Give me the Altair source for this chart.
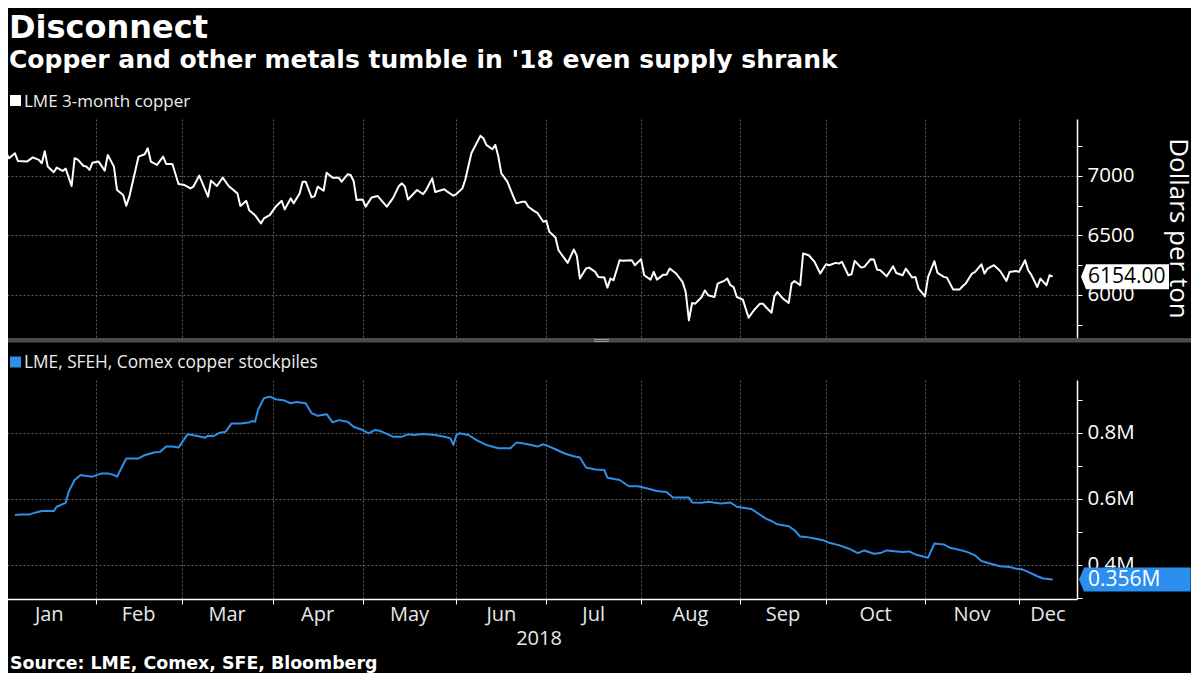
import altair as alt
import pandas as pd

# ---------------- texts ----------------
TITLE = "Disconnect"
SUBTITLE = "Copper and other metals tumble in '18 even supply shrank"
SOURCE = "Source: LME, Comex, SFE, Bloomberg"
COPPER_LABEL = "LME 3-month copper"
STOCK_LABEL = "LME, SFEH, Comex copper stockpiles"
COPPER_UNIT = "Dollars per ton"
YEAR = "2018"

# ---------------- data ----------------
copper_dates = [
    "01-01", "01-03", "01-05", "01-06", "01-09", "01-11", "01-13", "01-14", "01-15", "01-16",
    "01-18", "01-19", "01-21", "01-22", "01-24", "01-25", "01-26", "01-28", "01-29", "01-30", "01-31",
    "02-02", "02-04", "02-05", "02-07", "02-08", "02-10", "02-11", "02-12", "02-15", "02-17",
    "02-18", "02-19", "02-21", "02-23", "02-24", "02-26", "02-28",
    "03-02", "03-04", "03-05", "03-07", "03-08", "03-10", "03-11", "03-13", "03-15", "03-17",
    "03-20", "03-21", "03-23", "03-24", "03-26", "03-28", "03-29", "03-31",
    "04-02", "04-04", "04-05", "04-07", "04-08", "04-10", "04-11", "04-12", "04-14", "04-15",
    "04-16", "04-18", "04-19", "04-21", "04-23", "04-24", "04-26", "04-27", "04-28", "04-29",
    "05-01", "05-02", "05-04", "05-06", "05-09", "05-11", "05-13", "05-14", "05-15", "05-16",
    "05-19", "05-21", "05-22", "05-24", "05-25", "05-28", "05-29", "05-31",
    "06-01", "06-03", "06-04", "06-06", "06-09", "06-10", "06-11", "06-13", "06-14", "06-15",
    "06-16", "06-18", "06-20", "06-21", "06-23", "06-24", "06-25", "06-27", "06-28", "06-30",
    "07-01", "07-02", "07-04", "07-05", "07-08", "07-10", "07-11", "07-12", "07-14", "07-15",
    "07-17", "07-18", "07-20", "07-21", "07-22", "07-23", "07-25", "07-26", "07-29", "07-30",
    "08-01", "08-02", "08-04", "08-05", "08-06", "08-08", "08-09", "08-10", "08-12", "08-14",
    "08-15", "08-16", "08-17", "08-18", "08-20", "08-21", "08-22", "08-24", "08-25", "08-27",
    "08-28", "08-29", "08-30", "08-31",
    "09-02", "09-04", "09-06", "09-08", "09-09", "09-10", "09-12", "09-13", "09-14", "09-16",
    "09-18", "09-19", "09-20", "09-22", "09-23", "09-25", "09-27", "09-29",
    "10-01", "10-02", "10-04", "10-05", "10-06", "10-08", "10-09", "10-10", "10-12", "10-13",
    "10-15", "10-16", "10-17", "10-18", "10-20", "10-22", "10-23", "10-25", "10-26", "10-28",
    "10-29", "10-30",
    "11-01", "11-02", "11-04", "11-05", "11-07", "11-08", "11-10", "11-12", "11-13", "11-14",
    "11-16", "11-17", "11-19", "11-20", "11-21", "11-23", "11-25", "11-27", "11-28", "11-30",
    "12-01", "12-03", "12-04", "12-05", "12-07", "12-08", "12-10", "12-11", "12-12",
]
copper_usd = [
    7247, 7149, 7191, 7126, 7121, 7157, 7135, 7107, 7208, 7079,
    7031, 7070, 7042, 7062, 6916, 7149, 7140, 7084, 7079, 7051, 7112,
    7121, 7045, 7177, 7079, 6882, 6840, 6750, 6826, 7163, 7183,
    7233, 7121, 7093, 7163, 7101, 7101, 6933,
    6924, 6896, 6910, 7003, 6944, 6826, 6961, 6916, 6986, 6916,
    6854, 6747, 6792, 6713, 6671, 6601, 6643, 6671,
    6742, 6792, 6719, 6812, 6770, 6854, 6952, 6952, 6820, 6831,
    6910, 6876, 7028, 6986, 6986, 6952, 7014, 7008, 6958, 6798,
    6803, 6742, 6820, 6831, 6742, 6812, 6916, 6938, 6910, 6803,
    6882, 6848, 6882, 6980, 6865, 6888, 6868, 6834,
    6848, 6896, 6972, 7191, 7337, 7317, 7261, 7225, 7261, 7163,
    7022, 6952, 6826, 6770, 6784, 6784, 6742, 6705, 6691, 6615,
    6624, 6531, 6483, 6376, 6270, 6382, 6329, 6138, 6222, 6230,
    6194, 6152, 6146, 6062, 6138, 6124, 6292, 6287, 6292, 6250,
    6301, 6166, 6129, 6194, 6129, 6171, 6171, 6222, 6180, 6110,
    6025, 5787, 5933, 5927, 5983, 6039, 5997, 5983, 6096, 6118,
    6138, 6082, 6067, 5983,
    5961, 5809, 5876, 5927, 5927, 5899, 5851, 5989, 6025, 5969,
    5933, 6096, 6118, 6082, 6348, 6334, 6278, 6180,
    6258, 6250, 6270, 6264, 6278, 6166, 6174, 6287, 6230, 6236,
    6301, 6298, 6213, 6208, 6157, 6242, 6185, 6166, 6222, 6146,
    6152, 6053,
    5989, 6152, 6284, 6185, 6152, 6146, 6045, 6045, 6073, 6096,
    6180, 6194, 6258, 6180, 6222, 6250, 6202, 6118, 6194, 6202,
    6194, 6292, 6208, 6171, 6067, 6138, 6082, 6166, 6154,
]

stock_dates = [
    "01-05", "01-07", "01-10", "01-12", "01-14", "01-18", "01-19", "01-22", "01-23", "01-25",
    "01-27", "01-29", "01-31",
    "02-03", "02-05", "02-07", "02-08", "02-10", "02-11", "02-15", "02-17", "02-20", "02-22",
    "02-24", "02-26", "02-28",
    "03-03", "03-06", "03-09", "03-10", "03-12", "03-14", "03-16", "03-18", "03-21", "03-24",
    "03-25", "03-26", "03-27", "03-29", "03-31",
    "04-02", "04-05", "04-07", "04-09", "04-12", "04-14", "04-16", "04-19", "04-21", "04-23",
    "04-26", "04-28",
    "05-01", "05-03", "05-05", "05-07", "05-11", "05-14", "05-16", "05-18", "05-21", "05-25",
    "05-28", "05-30", "05-31",
    "06-01", "06-02", "06-05", "06-08", "06-11", "06-15", "06-19", "06-21", "06-23", "06-26",
    "06-28", "06-30",
    "07-02", "07-04", "07-07", "07-10", "07-12", "07-14", "07-17", "07-20", "07-21", "07-25",
    "07-28", "07-31",
    "08-03", "08-06", "08-09", "08-11", "08-16", "08-17", "08-20", "08-22", "08-26", "08-29",
    "08-31",
    "09-05", "09-07", "09-10", "09-12", "09-14", "09-18", "09-20", "09-22", "09-24", "09-27",
    "09-30",
    "10-02", "10-05", "10-08", "10-11", "10-13", "10-16", "10-18", "10-20", "10-25", "10-27",
    "10-29",
    "11-02", "11-04", "11-07", "11-09", "11-11", "11-14", "11-17", "11-19", "11-22", "11-25",
    "11-28", "11-30",
    "12-02", "12-04", "12-07", "12-09", "12-12",
]
stock_mt = [
    0.551, 0.553, 0.553, 0.559, 0.563, 0.563, 0.576, 0.588, 0.621, 0.657,
    0.672, 0.669, 0.667,
    0.677, 0.677, 0.672, 0.667, 0.704, 0.722, 0.722, 0.732, 0.740, 0.742,
    0.758, 0.758, 0.755,
    0.795, 0.791, 0.785, 0.791, 0.790, 0.800, 0.803, 0.828, 0.828, 0.831,
    0.835, 0.833, 0.869, 0.904, 0.909,
    0.901, 0.897, 0.889, 0.893, 0.889, 0.859, 0.851, 0.856, 0.831, 0.838,
    0.833, 0.818,
    0.808, 0.798, 0.808, 0.805, 0.788, 0.788, 0.795, 0.793, 0.796, 0.793,
    0.788, 0.783, 0.763,
    0.793, 0.798, 0.793, 0.776, 0.763, 0.753, 0.753, 0.770, 0.768, 0.763,
    0.758, 0.765,
    0.758, 0.750, 0.737, 0.729, 0.725, 0.695, 0.689, 0.687, 0.664, 0.657,
    0.638, 0.638,
    0.631, 0.624, 0.621, 0.604, 0.604, 0.589, 0.588, 0.591, 0.586, 0.589,
    0.576,
    0.569, 0.558, 0.540, 0.533, 0.523, 0.517, 0.505, 0.486, 0.485, 0.480,
    0.475,
    0.467, 0.460, 0.450, 0.436, 0.444, 0.434, 0.436, 0.444, 0.439, 0.441,
    0.432,
    0.422, 0.465, 0.462, 0.452, 0.448, 0.441, 0.429, 0.412, 0.404, 0.396,
    0.394, 0.389,
    0.387, 0.379, 0.366, 0.359, 0.356,
]

month_names = ["Jan", "Feb", "Mar", "Apr", "May", "Jun", "Jul", "Aug", "Sep", "Oct", "Nov", "Dec"]
month_starts = ["01-01", "02-01", "03-01", "04-01", "05-01", "06-01",
                "07-01", "08-01", "09-01", "10-01", "11-01", "12-01"]
month_mid = ["01-16T12:00", "02-15T00:00", "03-16T12:00", "04-16T00:00", "05-16T12:00",
             "06-16T00:00", "07-16T12:00", "08-16T12:00", "09-16T00:00", "10-16T12:00",
             "11-16T00:00", "12-10T12:00"]
axis_start = "2017-12-31T08:00"
axis_end = "12-20"
year_mid = "06-28T14:00"

copper_ticks = [5750, 6000, 6250, 6500, 6750, 7000, 7250]
stock_ticks = [0.3, 0.4, 0.5, 0.6, 0.7, 0.8, 0.9]
copper_last = 6154.00
stock_last = 0.356

YEAR0 = pd.Timestamp("2018-01-01")


def day_of_year(d):
    """Date string -> fractional day of 2018 (Jan 1 00:00 = 1)."""
    s = d if d.startswith("20") else "2018-" + d
    return (pd.Timestamp(s) - YEAR0) / pd.Timedelta(days=1) + 1


cu_df = pd.DataFrame({"day": [day_of_year(d) for d in copper_dates], "v": copper_usd})
st_df = pd.DataFrame({"day": [day_of_year(d) for d in stock_dates], "v": stock_mt})
mon_df = pd.DataFrame({"day": [day_of_year(d) for d in month_mid], "m": month_names})
year_df = pd.DataFrame({"day": [day_of_year(year_mid)], "m": [YEAR]})
cu_last_df = pd.DataFrame({"v": [copper_last], "t": [f"{copper_last:.2f}"]})
st_last_df = pd.DataFrame({"v": [stock_last], "t": [f"{stock_last:.3f}M"]})
one = pd.DataFrame({"k": [0]})

# ---------------- layout / styles ----------------
W = 1076
H_TOP = 220
H_BOT = 219
WHITE = "#ffffff"
BLUE = "#2f8fe6"
TAG_BLUE = "#2b8ff0"
GRID = "#5e5e5e"
REG = "Open Sans"
BOLD = "DejaVu Sans"

# Bloomberg's trading-day axis: month starts are not evenly spaced in calendar days,
# so the day scale is piecewise linear between month starts.
month_days = [day_of_year(d) for d in month_starts]
x_domain = [day_of_year(axis_start)] + month_days + [day_of_year(axis_end)]
x_range = [0, 2.0, 94.5, 180.6, 271.7, 361.6, 455.4, 545.3, 640.0, 739.0, 825.0, 924.0, 1018.0, W]
xscale = alt.Scale(domain=x_domain, range=x_range, nice=False, zero=False)

x_axis_top = alt.Axis(values=month_days, labels=False, ticks=False, domain=False, grid=True,
                      gridColor=GRID, gridDash=[2, 2], gridWidth=1, title=None)
x_axis_bot = alt.Axis(values=month_days, labels=False, ticks=True, tickSize=5, tickColor=WHITE,
                      domain=True, domainColor=WHITE, domainWidth=1.5, grid=True,
                      gridColor=GRID, gridDash=[2, 2], gridWidth=1, title=None)


def y_axis(values, label_expr, grid_test):
    return alt.Axis(orient="right", values=values, labelExpr=label_expr, grid=True,
                    gridColor=GRID, gridDash=[2, 2], gridWidth=1,
                    gridOpacity={"condition": {"test": grid_test, "value": 1}, "value": 0},
                    domainColor=WHITE, domainWidth=1.5, tickColor=WHITE, tickSize=5,
                    labelPadding=5, labelColor=WHITE, labelFont=REG, labelFontSize=20.5,
                    labelBaseline="middle", labelFlush=False, labelOverlap=False, title=None)


y_axis_top = y_axis(copper_ticks, "datum.value % 500 == 0 ? format(datum.value, 'd') : ''",
                    "datum.value % 500 == 0")
y_axis_bot = y_axis(stock_ticks,
                    "round(datum.value * 10) % 2 == 0 ? format(datum.value, '.1f') + 'M' : ''",
                    "round(datum.value * 10) % 2 == 0")
yscale_top = alt.Scale(domain=[5630, 7479], nice=False, zero=False)
yscale_bot = alt.Scale(domain=[0.2972, 0.9593], nice=False, zero=False)


def label(txt, x, y, size, font=REG, weight="normal", color=WHITE, align="left",
          baseline="alphabetic", angle=0):
    return alt.Chart(one).mark_text(text=txt, font=font, fontSize=size, fontWeight=weight,
                                    color=color, align=align, baseline=baseline,
                                    angle=angle).encode(x=alt.value(x), y=alt.value(y))


def swatch(color, x, y):
    return alt.Chart(one).mark_point(shape="square", filled=True, size=121, opacity=1,
                                     color=color, strokeWidth=0).encode(x=alt.value(x), y=alt.value(y))


TAG_TOP = "M0,0L0.4,-1L7.04,-1L7.04,1L0.4,1Z"
TAG_BOT = "M0,0L0.42,-1L9.3,-1L9.3,1L0.42,1Z"

X_TOP = alt.X("day:Q", scale=xscale, axis=x_axis_top)
X_BOT = alt.X("day:Q", scale=xscale, axis=x_axis_bot)
Y_TOP = alt.Y("v:Q", scale=yscale_top, axis=y_axis_top)
Y_BOT = alt.Y("v:Q", scale=yscale_bot, axis=y_axis_bot)

# ---------------- top panel: copper price ----------------
cu_line = alt.Chart(cu_df).mark_line(color=WHITE, strokeWidth=2, strokeJoin="round").encode(
    x=X_TOP, y=Y_TOP)
cu_tag = alt.Chart(cu_last_df).mark_point(shape=TAG_TOP, filled=True, size=625, opacity=1,
                                          color=WHITE, strokeWidth=0).encode(
    x=alt.value(1080), y=Y_TOP)
cu_tag_text = alt.Chart(cu_last_df).mark_text(font=REG, fontSize=21, color="#000000",
                                              align="left", baseline="middle").encode(
    x=alt.value(1087), y=Y_TOP, text="t:N")

anchor = alt.Chart(one).mark_rule(color="#000000").encode(
    x=alt.value(0), x2=alt.value(10), y=alt.value(-110.5))
band = alt.Chart(one).mark_rect(color="#4b4b4b").encode(
    x=alt.value(0), x2=alt.value(1190), y=alt.value(219), y2=alt.value(223.5))
handle1 = alt.Chart(one).mark_rule(color="#9a9a9a", strokeWidth=1).encode(
    x=alt.value(593), x2=alt.value(608), y=alt.value(220.5))
handle2 = alt.Chart(one).mark_rule(color="#9a9a9a", strokeWidth=1).encode(
    x=alt.value(593), x2=alt.value(608), y=alt.value(222.5))

top = alt.layer(
    anchor,
    cu_line,
    band, handle1, handle2,
    cu_tag, cu_tag_text,
    label(TITLE, 8, -81, 32, font=BOLD, weight="bold"),
    label(SUBTITLE, 8, -51, 25, font=BOLD, weight="bold"),
    swatch(WHITE, 14.5, -18.5),
    label(COPPER_LABEL, 23, -12, 17, color="#eeeeee"),
    label(COPPER_UNIT, 1169, 109.5, 26, align="center", baseline="alphabetic", angle=90),
).properties(width=W, height=H_TOP)

# ---------------- bottom panel: stockpiles ----------------
st_line = alt.Chart(st_df).mark_line(color=BLUE, strokeWidth=2, strokeJoin="round").encode(
    x=X_BOT, y=Y_BOT)
st_tag = alt.Chart(st_last_df).mark_point(shape=TAG_BOT, filled=True, size=576, opacity=1,
                                          color=TAG_BLUE, strokeWidth=0).encode(
    x=alt.value(1078), y=Y_BOT)
st_tag_text = alt.Chart(st_last_df).mark_text(font=REG, fontSize=21, color=WHITE,
                                              align="left", baseline="middle").encode(
    x=alt.value(1087), y=Y_BOT, text="t:N")
months = alt.Chart(mon_df).mark_text(font=REG, fontSize=20, color="#e8e8e8", align="center",
                                     baseline="alphabetic").encode(
    x=X_BOT, y=alt.value(241), text="m:N")
year = alt.Chart(year_df).mark_text(font=REG, fontSize=20, color="#e8e8e8", align="center",
                                    baseline="alphabetic").encode(
    x=X_BOT, y=alt.value(265), text="m:N")

bottom = alt.layer(
    st_line,
    st_tag, st_tag_text,
    months, year,
    swatch(BLUE, 14.5, -18),
    label(STOCK_LABEL, 23, -12, 17.3, color="#eeeeee"),
    label(SOURCE, 9, 289, 17.4, font=BOLD, weight="bold"),
).properties(width=W, height=H_BOT)

# body margin is 8px: a negative left padding lets the plot start at the page edge
chart = alt.vconcat(top, bottom, spacing=41, bounds="flush").properties(
    padding={"left": -8, "top": 0, "right": 0, "bottom": 0}
).configure(background="#000000").configure_view(strokeWidth=0)

chart.save("out.html", embed_options={"renderer": "svg", "actions": False})
